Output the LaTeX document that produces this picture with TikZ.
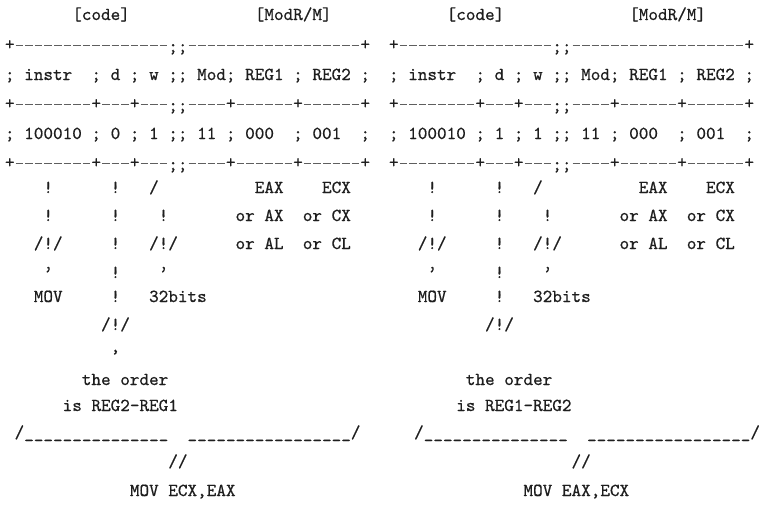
\documentclass[tikz,border=0pt]{standalone}
\usepackage{fontspec}
\newfontfamily\asciifam{lmmono10-regular.otf}[FakeBold=0.6]
\definecolor{ink}{RGB}{30,30,30}
\definecolor{rulegray}{RGB}{95,95,95}
\newcommand\asciifont{\asciifam\fontsize{18.3pt}{20pt}\selectfont\frenchspacing}
\tikzset{
  txt/.style={font=\asciifont, text=ink, inner sep=0pt, outer sep=0pt, anchor=base west},
  crs/.style={font=\asciifont, text=ink, inner sep=0pt, outer sep=0pt, anchor=center},
  dashrule/.style={draw=rulegray, line width=0.8pt, dash pattern=on 7.6pt off 2pt, dash phase=8.6pt},
}
\def\W{9.6075}
\def\uu{\_\_\_\_\_}
% full table rule: + at 0,9,13,23,30,37 and ;; at 17
\newcommand\midRule[3]{%
  \foreach \c in {0,9,13,23,30,37} {\node[crs] (#1p\c) at ({#2+(\c+0.5)*\W}, #3) {+};}
  \node[txt] (#1s) at ({#2+17*\W}, {#3+7}) {;;};
  \draw[dashrule] (#1p0.east) -- (#1p9.west);
  \draw[dashrule] (#1p9.east) -- (#1p13.west);
  \draw[dashrule] (#1p13.east) -- (#1p13.east -| #1s.west);
  \draw[dashrule] (#1p23.west -| #1s.east) -- (#1p23.west);
  \draw[dashrule] (#1p23.east) -- (#1p30.west);
  \draw[dashrule] (#1p30.east) -- (#1p37.west);
}
\newcommand\topRule[3]{%
  \foreach \c in {0,37} {\node[crs] (#1p\c) at ({#2+(\c+0.5)*\W}, #3) {+};}
  \node[txt] (#1s) at ({#2+17*\W}, {#3+7}) {;;};
  \draw[dashrule] (#1p0.east) -- (#1p0.east -| #1s.west);
  \draw[dashrule] (#1p37.west -| #1s.east) -- (#1p37.west);
}
\begin{document}
\begin{tikzpicture}[x=1pt,y=-1pt]
\useasboundingbox (0,0) rectangle (761,520);
\fill[white] (0,0) rectangle (761,520);
\def\L{5}
\def\R{389}
% ---------------- left block ----------------
\node[txt] (Lhead) at ({\L+7*\W}, 20) {[code]~~~~~~~~~~~~~[ModR/M]};
\topRule{Lr1}{\L}{45}
\node[txt] (Lfields) at ({\L+0*\W}, 80) {; instr~~; d ; w ;; Mod; REG1 ; REG2 ;};
\midRule{Lr3}{\L}{104}
\node[txt] (Lbits) at ({\L+0*\W}, 139) {; 100010 ; 0 ; 1 ;; 11 ; 000~~; 001~~;};
\midRule{Lr5}{\L}{163}
\node[txt] (La6) at ({\L+4*\W}, 193) {!~~~~~~!~~~/~~~~~~~~~~EAX~~~~ECX};
\node[txt] (La7) at ({\L+4*\W}, 221) {!~~~~~~!~~~~!~~~~~~~or AX~~or CX};
\node[txt] (La8) at ({\L+3*\W}, 249) {/!/~~~~~!~~~/!/~~~~~~or AL~~or CL};
\node[txt] (La9) at ({\L+4*\W}, 278) {’~~~~~~!~~~~’};
\node[txt] (La10) at ({\L+3*\W}, 302) {MOV~~~~~!~~~32bits};
\node[txt] (La11) at ({\L+10*\W}, 330) {/!/};
\node[txt] (La12) at ({\L+11*\W}, 352) {,};
\node[txt] (La13) at ({\L+8*\W}, 385) {the order};
\node[txt] (La14) at ({\L+6*\W}, 411) {is REG2-REG1};
\node[txt] (La15) at ({\L+1*\W}, 438) {/\uu\uu\uu~~\uu\uu\uu\_\_/};
\node[txt] (La16) at ({\L+17*\W}, 467) {//};
\node[txt] (La17) at ({\L+13*\W}, 496) {MOV ECX,EAX};
% ---------------- right block ----------------
\node[txt] (Rhead) at ({\R+6*\W}, 20) {[code]~~~~~~~~~~~~~[ModR/M]};
\topRule{Rr1}{\R}{45}
\node[txt] (Rfields) at ({\R+0*\W}, 80) {; instr~~; d ; w ;; Mod; REG1 ; REG2 ;};
\midRule{Rr3}{\R}{104}
\node[txt] (Rbits) at ({\R+0*\W}, 139) {; 100010 ; 1 ; 1 ;; 11 ; 000~~; 001~~;};
\midRule{Rr5}{\R}{163}
\node[txt] (Ra6) at ({\R+4*\W}, 193) {!~~~~~~!~~~/~~~~~~~~~~EAX~~~~ECX};
\node[txt] (Ra7) at ({\R+4*\W}, 221) {!~~~~~~!~~~~!~~~~~~~or AX~~or CX};
\node[txt] (Ra8) at ({\R+3*\W}, 249) {/!/~~~~~!~~~/!/~~~~~~or AL~~or CL};
\node[txt] (Ra9) at ({\R+4*\W}, 278) {’~~~~~~!~~~~’};
\node[txt] (Ra10) at ({\R+3*\W}, 302) {MOV~~~~~!~~~32bits};
\node[txt] (Ra11) at ({\R+10*\W}, 330) {/!/};
\node[txt] (Ra13) at ({\R+8*\W}, 385) {the order};
\node[txt] (Ra14) at ({\R+7*\W}, 411) {is REG1-REG2};
\node[txt, anchor=base east] (Ra15) at (760, 438) {/\uu\uu\uu~~\uu\uu\uu\_\_/};
\node[txt] (Ra16) at ({\R+19*\W}, 467) {//};
\node[txt] (Ra17) at ({\R+14*\W}, 496) {MOV EAX,ECX};
\end{tikzpicture}
\end{document}
